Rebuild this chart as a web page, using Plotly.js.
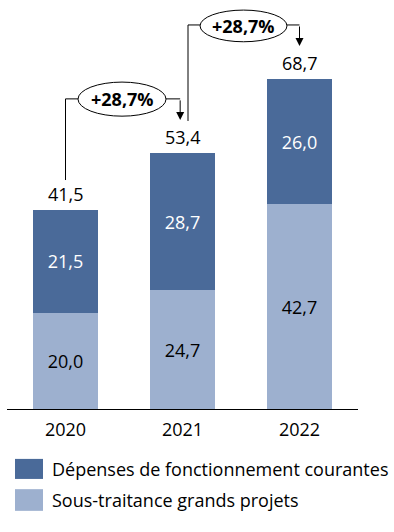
<!DOCTYPE html>
<html><head><meta charset="utf-8">
<script src="https://cdn.plot.ly/plotly-3.0.1.min.js"></script>
<style>html,body{margin:0;padding:0;background:#fff}</style>
</head><body><div id="chart" style="width:394px;height:532px"></div>
<script>
const years = ['2020', '2021', '2022'];
const sousTraitance = [20.0, 24.7, 42.7];
const depenses = [21.5, 28.7, 26.0];
const seriesNames = ['Dépenses de fonctionnement courantes', 'Sous-traitance grands projets'];
const growthLabels = ['+28,7%', '+28,7%'];

const darkColor = '#4A6A99';
const lightColor = '#9DB0CF';
const FONT = '"Open Sans", Lato, sans-serif';
const FS = 18;
const fmt = v => v.toFixed(1).replace('.', ',');
const totals = years.map((_, i) => +(sousTraitance[i] + depenses[i]).toFixed(1));

const traces = [
  {type: 'bar', x: years, y: sousTraitance, name: seriesNames[1], marker: {color: lightColor},
   text: sousTraitance.map(fmt), textposition: 'inside', insidetextanchor: 'middle',
   textfont: {color: '#000', size: FS, family: FONT}, hoverinfo: 'skip'},
  {type: 'bar', x: years, y: depenses, name: seriesNames[0], marker: {color: darkColor},
   text: depenses.map(fmt), textposition: 'inside', insidetextanchor: 'middle',
   textfont: {color: '#fff', size: FS, family: FONT}, hoverinfo: 'skip'}
];

const shapes = [];
const annotations = [];
// totals above bars
years.forEach((yr, i) => {
  annotations.push({xref: 'x', yref: 'y', x: i, y: totals[i], yanchor: 'bottom', yshift: 2,
    text: fmt(totals[i]), showarrow: false, font: {size: FS, color: '#000', family: FONT}});
});
// growth connectors
const conn = [
  {x0: 0, x1: 0.98, yStart: 47.7, yTop: 64.6, yTip: 60.2, ex0: 0.107, ex1: 0.859, ey0: 61.0, ey1: 68.1},
  {x0: 1.047, x1: 2.0, yStart: 60.0, yTop: 80.0, yTip: 75.6, ex0: 1.15, ex1: 1.893, ey0: 76.5, ey1: 83.1}
];
conn.forEach((c, i) => {
  shapes.push({type: 'path', xref: 'x', yref: 'y',
    path: `M ${c.x0},${c.yStart} L ${c.x0},${c.yTop} L ${c.x1},${c.yTop}`,
    line: {color: '#000', width: 1}});
  shapes.push({type: 'circle', xref: 'x', yref: 'y', x0: c.ex0, x1: c.ex1, y0: c.ey0, y1: c.ey1,
    fillcolor: '#fff', line: {color: '#000', width: 1}});
  annotations.push({xref: 'x', yref: 'y', axref: 'x', ayref: 'y', x: c.x1, y: c.yTip, ax: c.x1, ay: c.yTop,
    showarrow: true, arrowhead: 2, arrowsize: 1.6, arrowwidth: 1, arrowcolor: '#000', text: ''});
  annotations.push({xref: 'x', yref: 'y', x: (c.ex0 + c.ex1) / 2, y: (c.ey0 + c.ey1) / 2,
    text: '<b>' + growthLabels[i] + '</b>', showarrow: false,
    font: {size: FS, color: '#000', family: FONT}});
});
// legend
const legendItems = [
  {name: seriesNames[0], color: darkColor, y0: -0.171, y1: -0.122, ty: -0.1467},
  {name: seriesNames[1], color: lightColor, y0: -0.249, y1: -0.196, ty: -0.2225}
];
legendItems.forEach(it => {
  shapes.push({type: 'rect', xref: 'paper', yref: 'paper', x0: 0.0228, x1: 0.1026, y0: it.y0, y1: it.y1,
    fillcolor: it.color, line: {width: 0}});
  annotations.push({xref: 'paper', yref: 'paper', x: 0.122, y: it.ty, xanchor: 'left', yanchor: 'middle',
    text: it.name, showarrow: false, font: {size: FS, color: '#000', family: FONT}});
});

const layout = {
  width: 394, height: 532,
  margin: {l: 7, r: 36, t: 0, b: 123},
  barmode: 'stack', bargap: 0.45,
  separators: ',.',
  showlegend: false,
  paper_bgcolor: '#fff', plot_bgcolor: '#fff',
  font: {family: FONT, size: FS, color: '#000'},
  xaxis: {type: 'category', range: [-0.5, 2.5], showline: true, linecolor: '#000', linewidth: 1,
    ticks: 'outside', ticklen: 4, tickcolor: 'rgba(0,0,0,0)', showgrid: false, zeroline: false,
    tickfont: {size: FS, color: '#000', family: FONT}, fixedrange: true},
  yaxis: {range: [0, 85.2], visible: false, showgrid: false, zeroline: false, fixedrange: true},
  shapes: shapes, annotations: annotations
};
Plotly.newPlot('chart', traces, layout, {displayModeBar: false, staticPlot: true});
</script></body></html>
